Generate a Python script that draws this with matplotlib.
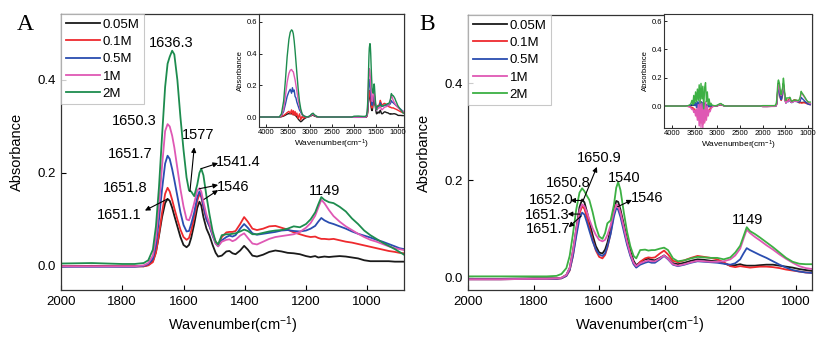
import matplotlib
matplotlib.use("Agg")
import matplotlib.pyplot as plt
import numpy as np

plt.rcParams['font.family'] = ['Liberation Sans', 'DejaVu Sans']
plt.rcParams['mathtext.fontset'] = 'custom'
plt.rcParams['mathtext.rm'] = 'Liberation Sans'
plt.rcParams['mathtext.it'] = 'Liberation Sans:italic'

labels = ['0.05M', '0.1M', '0.5M', '1M', '2M']

# ---------------- Panel A (main, 2000-880 cm-1) ----------------
wnA = [2000, 1900, 1800, 1760, 1730, 1715, 1700, 1690, 1680, 1670, 1660, 1652, 1645, 1637, 1630, 1620,
       1610, 1600, 1590, 1582, 1575, 1565, 1555, 1548, 1542, 1535, 1525, 1515, 1505, 1495, 1487, 1475,
       1460, 1450, 1440, 1430, 1415, 1402, 1390, 1375, 1360, 1340, 1320, 1300, 1280, 1260, 1240, 1220,
       1200, 1185, 1170, 1160, 1150, 1140, 1125, 1110, 1090, 1070, 1050, 1030, 1010, 990, 970, 950,
       930, 910, 895, 880]
a_005 = [-0.001, 0.0, -0.001, -0.001, -0.001, 0.002, 0.010, 0.030, 0.065, 0.105, 0.135, 0.144, 0.140, 0.125, 0.108, 0.085,
         0.062, 0.045, 0.040, 0.045, 0.060, 0.090, 0.125, 0.138, 0.130, 0.105, 0.080, 0.065, 0.045, 0.028, 0.020, 0.022,
         0.031, 0.032, 0.027, 0.025, 0.033, 0.043, 0.035, 0.022, 0.020, 0.024, 0.030, 0.033, 0.031, 0.028, 0.027, 0.025,
         0.021, 0.019, 0.021, 0.018, 0.019, 0.020, 0.019, 0.020, 0.021, 0.020, 0.018, 0.016, 0.012, 0.010, 0.010, 0.010,
         0.010, 0.009, 0.009, 0.009]
a_01 = [-0.001, -0.001, -0.001, -0.001, -0.001, 0.001, 0.008, 0.028, 0.068, 0.115, 0.155, 0.168, 0.160, 0.142, 0.124, 0.100,
        0.078, 0.062, 0.056, 0.060, 0.075, 0.105, 0.140, 0.155, 0.148, 0.125, 0.100, 0.085, 0.068, 0.052, 0.045, 0.062,
        0.072, 0.073, 0.073, 0.075, 0.090, 0.105, 0.095, 0.080, 0.077, 0.080, 0.085, 0.086, 0.082, 0.078, 0.072, 0.068,
        0.064, 0.062, 0.063, 0.060, 0.058, 0.058, 0.057, 0.058, 0.055, 0.052, 0.050, 0.047, 0.044, 0.041, 0.038, 0.035,
        0.032, 0.030, 0.028, 0.027]
a_05 = [-0.002, -0.002, -0.002, -0.002, 0.0, 0.004, 0.015, 0.045, 0.100, 0.165, 0.220, 0.237, 0.230, 0.208, 0.185, 0.150,
        0.115, 0.088, 0.074, 0.075, 0.090, 0.115, 0.148, 0.160, 0.152, 0.128, 0.100, 0.085, 0.065, 0.048, 0.042, 0.055,
        0.062, 0.065, 0.063, 0.066, 0.080, 0.090, 0.082, 0.070, 0.067, 0.069, 0.071, 0.073, 0.076, 0.077, 0.075, 0.074,
        0.076, 0.080, 0.086, 0.095, 0.103, 0.098, 0.093, 0.090, 0.085, 0.080, 0.074, 0.069, 0.065, 0.061, 0.056, 0.052,
        0.047, 0.042, 0.038, 0.036]
a_1 = [-0.001, -0.001, -0.001, -0.001, 0.001, 0.006, 0.022, 0.060, 0.130, 0.215, 0.290, 0.305, 0.300, 0.280, 0.255, 0.210,
       0.165, 0.128, 0.100, 0.098, 0.110, 0.135, 0.162, 0.167, 0.160, 0.138, 0.110, 0.090, 0.068, 0.048, 0.042, 0.052,
       0.056, 0.057, 0.053, 0.056, 0.065, 0.070, 0.060, 0.048, 0.046, 0.052, 0.058, 0.062, 0.064, 0.066, 0.068, 0.073,
       0.082, 0.092, 0.108, 0.125, 0.142, 0.135, 0.120, 0.107, 0.095, 0.085, 0.077, 0.069, 0.062, 0.056, 0.052, 0.047,
       0.042, 0.038, 0.036, 0.034]
a_2 = [0.005, 0.006, 0.004, 0.004, 0.006, 0.012, 0.035, 0.085, 0.170, 0.280, 0.385, 0.435, 0.450, 0.463, 0.455, 0.400,
       0.320, 0.250, 0.190, 0.162, 0.160, 0.150, 0.175, 0.200, 0.209, 0.195, 0.150, 0.110, 0.075, 0.052, 0.046, 0.066,
       0.068, 0.068, 0.069, 0.070, 0.074, 0.078, 0.075, 0.068, 0.068, 0.071, 0.074, 0.076, 0.077, 0.080, 0.085, 0.083,
       0.090, 0.100, 0.115, 0.132, 0.148, 0.142, 0.137, 0.135, 0.127, 0.117, 0.102, 0.090, 0.076, 0.066, 0.058, 0.050,
       0.043, 0.036, 0.030, 0.024]

# Inset A high-wavenumber part (4160-2000 cm-1)
wnIA = [4160, 4000, 3800, 3700, 3650, 3600, 3560, 3520, 3480, 3450, 3420, 3400, 3380, 3360, 3340, 3320, 3300,
        3270, 3240, 3210, 3180, 3150, 3100, 3050, 3000, 2960, 2930, 2900, 2850, 2800, 2600, 2400, 2200, 2050]
ia_005 = [0, 0, 0, 0, 0.002, 0.006, 0.012, 0.018, 0.022, 0.020, 0.024, 0.016, 0.022, 0.012, 0.018, 0.006, 0.0,
          -0.012, -0.022, -0.030, -0.024, -0.015, -0.005, 0.0, 0.004, 0.010, 0.012, 0.006, 0.002, 0, 0, 0, 0, 0]
ia_01 = [0, 0, 0, 0, 0.003, 0.010, 0.018, 0.028, 0.036, 0.022, 0.045, 0.015, 0.040, 0.012, 0.035, 0.008, 0.025,
         -0.010, 0.020, -0.018, 0.005, -0.008, 0.0, 0.0, 0.005, 0.012, 0.014, 0.008, 0.002, 0, 0, 0, 0, 0]
ia_05 = [0, 0, 0, 0, 0.008, 0.035, 0.080, 0.130, 0.160, 0.175, 0.150, 0.185, 0.160, 0.170, 0.130, 0.120, 0.095,
         0.070, 0.045, 0.030, 0.015, 0.008, 0.002, 0.0, 0.006, 0.015, 0.018, 0.010, 0.003, 0, 0, 0, 0, 0]
ia_1 = [0, 0, 0, 0, 0.010, 0.050, 0.130, 0.220, 0.275, 0.295, 0.300, 0.290, 0.285, 0.260, 0.235, 0.200, 0.165,
        0.110, 0.070, 0.040, 0.018, 0.008, 0.002, 0.0, 0.006, 0.016, 0.020, 0.012, 0.003, 0, 0, 0, 0, 0]
ia_2 = [0, 0, 0, 0, 0.020, 0.100, 0.230, 0.380, 0.490, 0.535, 0.550, 0.545, 0.525, 0.480, 0.420, 0.350, 0.280,
        0.180, 0.100, 0.050, 0.020, 0.008, 0.002, 0.0, 0.008, 0.020, 0.024, 0.014, 0.004, 0, 0, 0, 0, 0]

# ---------------- Panel B (main, 2000-950 cm-1) ----------------
wnB = [2000, 1900, 1800, 1760, 1730, 1715, 1700, 1690, 1680, 1670, 1660, 1652, 1645, 1637, 1630, 1620,
       1610, 1600, 1590, 1582, 1575, 1565, 1555, 1548, 1542, 1535, 1525, 1515, 1505, 1495, 1487, 1475,
       1460, 1450, 1440, 1430, 1415, 1402, 1390, 1375, 1360, 1340, 1320, 1300, 1280, 1260, 1240, 1220,
       1200, 1185, 1170, 1160, 1150, 1140, 1125, 1110, 1090, 1070, 1050, 1030, 1010, 990, 970, 950]
b_005 = [-0.002, -0.002, -0.001, -0.001, -0.001, 0.0, 0.006, 0.020, 0.055, 0.100, 0.145, 0.161, 0.155, 0.135, 0.115, 0.088,
         0.065, 0.052, 0.050, 0.058, 0.072, 0.100, 0.140, 0.158, 0.156, 0.140, 0.110, 0.080, 0.055, 0.035, 0.026, 0.032,
         0.038, 0.039, 0.037, 0.036, 0.041, 0.046, 0.040, 0.030, 0.028, 0.031, 0.035, 0.038, 0.037, 0.035, 0.034, 0.030,
         0.025, 0.026, 0.028, 0.026, 0.025, 0.025, 0.025, 0.026, 0.027, 0.027, 0.025, 0.023, 0.021, 0.018, 0.016, 0.014]
b_01 = [-0.003, -0.003, -0.002, -0.002, -0.002, -0.001, 0.004, 0.015, 0.045, 0.090, 0.132, 0.147, 0.142, 0.123, 0.103, 0.078,
        0.056, 0.043, 0.040, 0.047, 0.062, 0.092, 0.132, 0.150, 0.148, 0.132, 0.102, 0.072, 0.048, 0.030, 0.022, 0.033,
        0.040, 0.042, 0.041, 0.042, 0.050, 0.056, 0.048, 0.035, 0.032, 0.036, 0.041, 0.045, 0.043, 0.041, 0.038, 0.032,
        0.024, 0.022, 0.024, 0.023, 0.022, 0.021, 0.022, 0.023, 0.023, 0.022, 0.020, 0.017, 0.015, 0.013, 0.011, 0.010]
b_05 = [-0.003, -0.003, -0.002, -0.002, -0.002, -0.001, 0.004, 0.016, 0.045, 0.085, 0.122, 0.134, 0.130, 0.113, 0.097, 0.075,
        0.058, 0.048, 0.045, 0.050, 0.064, 0.090, 0.126, 0.143, 0.140, 0.125, 0.096, 0.068, 0.045, 0.028, 0.021, 0.027,
        0.031, 0.033, 0.031, 0.031, 0.038, 0.045, 0.038, 0.027, 0.024, 0.027, 0.031, 0.034, 0.033, 0.032, 0.031, 0.029,
        0.027, 0.030, 0.038, 0.050, 0.061, 0.057, 0.052, 0.047, 0.041, 0.034, 0.027, 0.021, 0.016, 0.013, 0.011, 0.010]
b_1 = [-0.003, -0.003, -0.002, -0.002, -0.001, 0.0, 0.006, 0.020, 0.055, 0.100, 0.138, 0.151, 0.147, 0.134, 0.120, 0.102,
       0.088, 0.078, 0.075, 0.078, 0.088, 0.108, 0.135, 0.150, 0.148, 0.133, 0.104, 0.074, 0.049, 0.031, 0.024, 0.030,
       0.034, 0.036, 0.034, 0.034, 0.040, 0.046, 0.039, 0.028, 0.025, 0.028, 0.032, 0.035, 0.034, 0.033, 0.033, 0.034,
       0.038, 0.046, 0.060, 0.080, 0.099, 0.092, 0.084, 0.077, 0.067, 0.058, 0.048, 0.039, 0.031, 0.024, 0.020, 0.018]
b_2 = [0.003, 0.003, 0.003, 0.003, 0.004, 0.008, 0.020, 0.045, 0.090, 0.140, 0.175, 0.184, 0.178, 0.168, 0.160, 0.135,
       0.105, 0.085, 0.080, 0.092, 0.112, 0.118, 0.150, 0.185, 0.197, 0.180, 0.135, 0.095, 0.065, 0.045, 0.040, 0.057,
       0.058, 0.056, 0.057, 0.057, 0.060, 0.062, 0.057, 0.040, 0.034, 0.036, 0.040, 0.043, 0.042, 0.041, 0.041, 0.038,
       0.042, 0.052, 0.066, 0.085, 0.104, 0.096, 0.090, 0.083, 0.073, 0.063, 0.052, 0.041, 0.033, 0.029, 0.028, 0.028]

# Inset B high-wavenumber part (4180-2000 cm-1)
wnIB = [4180, 4000, 3800, 3700, 3650, 3600, 3580, 3560, 3540, 3520, 3500, 3480, 3460, 3440, 3420, 3400, 3380,
        3360, 3340, 3320, 3300, 3280, 3260, 3240, 3220, 3200, 3180, 3160, 3140, 3120, 3100, 3050, 3000, 2950,
        2920, 2890, 2850, 2800, 2600, 2400, 2200, 2050]
ib_005 = [0, 0, 0, 0, 0.001, 0.003, 0.002, 0.006, 0.004, 0.010, 0.005, 0.015, 0.002, 0.020, -0.010, 0.025, -0.015,
          0.030, -0.020, 0.020, -0.025, 0.015, -0.015, 0.010, -0.010, 0.005, -0.005, 0.002, 0.0, 0.0, 0.0, 0.0, 0.002, 0.008,
          0.010, 0.006, 0.002, 0, 0, 0, 0, 0]
ib_01 = [0, 0, 0, 0, -0.002, -0.005, -0.008, -0.015, -0.010, -0.030, -0.020, -0.050, -0.030, -0.080, -0.040, -0.100, -0.060,
         -0.120, -0.040, -0.130, -0.070, -0.110, -0.050, -0.080, -0.040, -0.050, -0.025, -0.020, -0.010, -0.006, -0.003, 0.0, 0.002, 0.008,
         0.010, 0.006, 0.002, 0, 0, 0, 0, 0]
ib_05 = [0, 0, 0, 0, 0.001, 0.004, 0.008, 0.012, 0.006, 0.018, 0.004, 0.025, -0.010, 0.030, -0.020, 0.035, -0.025,
         0.030, -0.030, 0.025, -0.020, 0.020, -0.015, 0.012, -0.008, 0.008, -0.004, 0.004, 0.0, 0.0, 0.0, 0.0, 0.003, 0.010,
         0.012, 0.007, 0.002, 0, 0, 0, 0, 0]
ib_1 = [0, 0, 0, 0, -0.003, -0.008, -0.015, -0.025, -0.020, -0.045, -0.030, -0.070, -0.020, -0.100, 0.010, -0.140, 0.040,
        -0.150, 0.020, -0.155, 0.010, -0.120, 0.030, -0.100, 0.000, -0.070, -0.030, -0.040, -0.020, -0.010, -0.004, 0.0, 0.003, 0.010,
        0.012, 0.007, 0.002, 0, 0, 0, 0, 0]
ib_2 = [0, 0, 0, 0, 0.002, 0.010, 0.020, 0.040, 0.010, 0.075, 0.020, 0.100, 0.030, 0.120, 0.040, 0.150, 0.020,
        0.160, 0.050, 0.140, -0.020, 0.130, 0.165, 0.030, 0.100, 0.010, 0.050, 0.005, 0.020, 0.008, 0.005, 0.002, 0.006, 0.016,
        0.018, 0.010, 0.003, 0, 0, 0, 0, 0]

colors_A = ['#1a1a1a', '#ee2a2e', '#2a4db0', '#df58b4', '#1d8c4e']
colors_B = ['#1a1a1a', '#ee2a2e', '#2a4db0', '#df58b4', '#3cb043']

fig = plt.figure(figsize=(8.36, 3.42), dpi=100)
W, H = 836.0, 342.0

def fax(l, t, r, b):
    return fig.add_axes([l / W, 1 - b / H, (r - l) / W, (b - t) / H])

def style_main(ax):
    for s in ax.spines.values():
        s.set_color('#333333')
        s.set_linewidth(0.9)
    ax.tick_params(direction='in', length=3.5, width=0.8, labelsize=9.5, top=False, right=False, pad=4)
    ax.set_ylabel('Absorbance', fontsize=10.5)
    ax.set_xlabel('Wavenumber(cm$^{-1}$)', fontsize=10.5, labelpad=5)

def style_inset(ax):
    for s in ax.spines.values():
        s.set_color('#333333')
        s.set_linewidth(0.8)
    ax.tick_params(direction='in', length=2, width=0.6, labelsize=5.5, pad=1.5, top=False, right=False)
    ax.set_ylabel('Absorbance', fontsize=5.5, labelpad=1.5)
    ax.set_xlabel('Wavenumber(cm$^{-1}$)', fontsize=6, labelpad=1.5)
    ax.set_xticks([4000, 3500, 3000, 2500, 2000, 1500, 1000])
    ax.set_yticks([0.0, 0.2, 0.4, 0.6])
    ax.yaxis.set_major_formatter(matplotlib.ticker.FormatStrFormatter('%.1f'))

arrow_kw = dict(arrowstyle='-|>', lw=0.8, color='black', mutation_scale=7, shrinkA=0, shrinkB=0)

def arrow(ax, head, tail):
    ax.annotate('', xy=head, xytext=tail, arrowprops=arrow_kw)

def make_legend(ax):
    leg = ax.legend(loc='upper left', fontsize=9.5, frameon=True, fancybox=False, edgecolor='#bbbbbb',
                    handlelength=2.6, handletextpad=0.2, labelspacing=0.38, borderpad=0.35,
                    borderaxespad=0.0)
    leg.get_frame().set_linewidth(0.8)
    return leg

# ---------- Panel A ----------
axA = fax(61, 14, 404, 290)
seriesA = [a_005, a_01, a_05, a_1, a_2]
for lab, ys, c in zip(labels, seriesA, colors_A):
    axA.plot(wnA, ys, color=c, lw=1.3, label=lab)
axA.set_xlim(2000, 880)
axA.set_ylim(-0.052, 0.542)
axA.set_xticks([2000, 1800, 1600, 1400, 1200, 1000])
axA.set_yticks([0.0, 0.2, 0.4])
axA.yaxis.set_major_formatter(matplotlib.ticker.FormatStrFormatter('%.1f'))
style_main(axA)
axA.yaxis.set_label_coords(-0.107, 0.5)
make_legend(axA)

fs_ann = 10.5
axA.text(1641, 0.480, '1636.3', fontsize=fs_ann, ha='center', va='center')
axA.text(1762, 0.312, '1650.3', fontsize=fs_ann, ha='center', va='center')
axA.text(1775, 0.241, '1651.7', fontsize=fs_ann, ha='center', va='center')
axA.text(1791, 0.168, '1651.8', fontsize=fs_ann, ha='center', va='center')
axA.text(1811, 0.110, '1651.1', fontsize=fs_ann, ha='center', va='center')
arrow(axA, (1726, 0.119), (1652, 0.144))
axA.text(1552, 0.282, '1577', fontsize=fs_ann, ha='center', va='center')
arrow(axA, (1565, 0.255), (1579, 0.160))
axA.text(1421, 0.224, '1541.4', fontsize=fs_ann, ha='center', va='center')
arrow(axA, (1487, 0.221), (1543, 0.209))
axA.text(1438, 0.170, '1546', fontsize=fs_ann, ha='center', va='center')
arrow(axA, (1487, 0.174), (1548, 0.166))
arrow(axA, (1487, 0.163), (1533, 0.143))
axA.text(1139, 0.161, '1149', fontsize=fs_ann, ha='center', va='center')

# Inset A
iaxA = fax(259, 14, 404, 127)
seriesIA = [ia_005, ia_01, ia_05, ia_1, ia_2]
for ys_hi, ys_lo, c in zip(seriesIA, seriesA, colors_A):
    iaxA.plot(wnIA + wnA, ys_hi + ys_lo, color=c, lw=1.0)
iaxA.set_xlim(4160, 863)
iaxA.set_ylim(-0.063, 0.65)
style_inset(iaxA)

# ---------- Panel B ----------
axB = fax(468, 15, 812, 290)
seriesB = [b_005, b_01, b_05, b_1, b_2]
for lab, ys, c in zip(labels, seriesB, colors_B):
    axB.plot(wnB, ys, color=c, lw=1.3, label=lab)
axB.set_xlim(2000, 951)
axB.set_ylim(-0.025, 0.54)
axB.set_xticks([2000, 1800, 1600, 1400, 1200, 1000])
axB.set_yticks([0.0, 0.2, 0.4])
axB.yaxis.set_major_formatter(matplotlib.ticker.FormatStrFormatter('%.1f'))
style_main(axB)
axB.yaxis.set_label_coords(-0.108, 0.5)
make_legend(axB)

axB.text(1600, 0.246, '1650.9', fontsize=fs_ann, ha='center', va='center')
arrow(axB, (1607, 0.228), (1650, 0.157))
axB.text(1693, 0.194, '1650.8', fontsize=fs_ann, ha='center', va='center')
axB.text(1747, 0.159, '1652.0', fontsize=fs_ann, ha='center', va='center')
arrow(axB, (1688, 0.159), (1652, 0.159))
axB.text(1760, 0.129, '1651.3', fontsize=fs_ann, ha='center', va='center')
arrow(axB, (1696, 0.131), (1658, 0.131))
axB.text(1754, 0.100, '1651.7', fontsize=fs_ann, ha='center', va='center')
arrow(axB, (1693, 0.104), (1655, 0.127))
axB.text(1523, 0.205, '1540', fontsize=fs_ann, ha='center', va='center')
axB.text(1454, 0.163, '1546', fontsize=fs_ann, ha='center', va='center')
arrow(axB, (1500, 0.160), (1544, 0.146))
axB.text(1149, 0.118, '1149', fontsize=fs_ann, ha='center', va='center')

# Inset B
iaxB = fax(664, 14, 812, 128)
seriesIB = [ib_005, ib_01, ib_05, ib_1, ib_2]
for ys_hi, ys_lo, c in zip(seriesIB, seriesB, colors_B):
    iaxB.plot(wnIB + wnB, ys_hi + ys_lo, color=c, lw=1.0)
iaxB.set_xlim(4176, 912)
iaxB.set_ylim(-0.155, 0.65)
style_inset(iaxB)

fig.text(25 / W, 1 - 25 / H, 'A', fontsize=17, family=['Liberation Serif', 'DejaVu Serif'], ha='center', va='center')
fig.text(427 / W, 1 - 25 / H, 'B', fontsize=17, family=['Liberation Serif', 'DejaVu Serif'], ha='center', va='center')

fig.savefig('out.png', dpi=100)
